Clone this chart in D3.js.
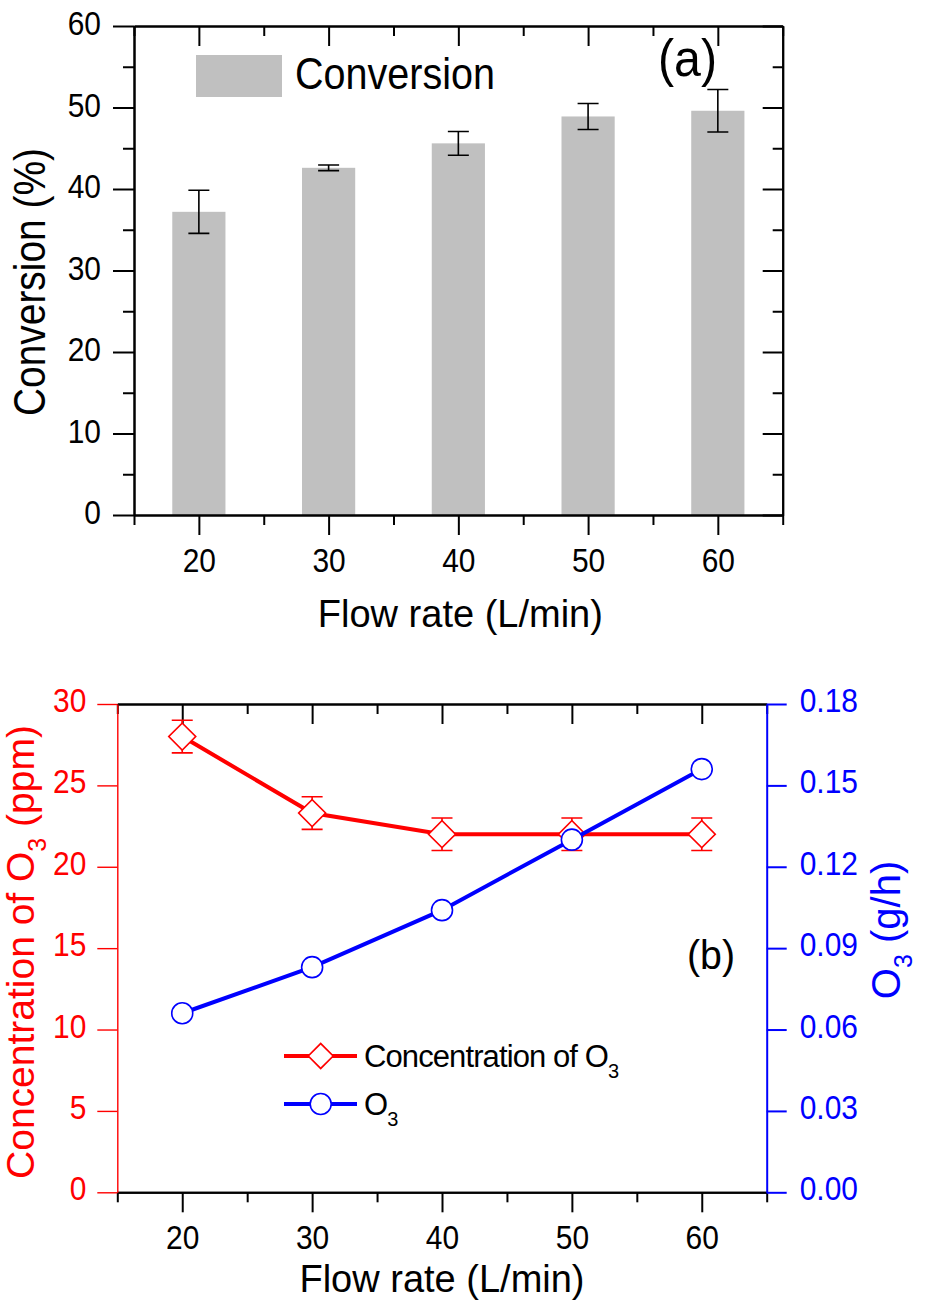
<!DOCTYPE html>
<html>
<head>
<meta charset="utf-8">
<script src="https://cdn.jsdelivr.net/npm/d3@7"></script>
<style>
  html, body { margin: 0; padding: 0; background: #fff; }
  svg { display: block; font-family: "Liberation Sans", Arial, sans-serif; }
</style>
</head>
<body>
<svg id="chart" width="925" height="1305"></svg>
<script>
// ---------- data ----------
const flowRates = [20, 30, 40, 50, 60];
const conversion = [37.2, 42.6, 45.6, 48.9, 49.6];
const conversionErr = [2.65, 0.35, 1.45, 1.6, 2.6];
const o3Concentration = [28.0, 23.3, 22.0, 22.0, 22.0];
const o3ConcentrationErr = [1.0, 1.0, 1.0, 1.0, 1.0];
const o3Rate = [0.066, 0.083, 0.104, 0.130, 0.156];

const xMajorTicks = [20, 30, 40, 50, 60];
const xMinorTicks = [15, 25, 35, 45, 55, 65];
const convMajorTicks = [0, 10, 20, 30, 40, 50, 60];
const convMinorTicks = [5, 15, 25, 35, 45, 55];
const concTicks = [0, 5, 10, 15, 20, 25, 30];
const rateTicks = [0, 0.03, 0.06, 0.09, 0.12, 0.15, 0.18];

const xTitle = "Flow rate (L/min)";
const convTitle = "Conversion (%)";
const convLegend = "Conversion";

// ---------- setup ----------
const svg = d3.select("#chart");
const RED = "#ff0000", BLUE = "#0000ff", GRAY = "#c0c0c0";
const TICK_FONT = 34;
const CONDENSE = 0.88;

// horizontally condense texts (narrow Arial look of the original)
function condense(sel, k, target) {
  sel.each(function () {
    const len = this.getComputedTextLength();
    d3.select(this).attr("textLength", target ? target : len * k).attr("lengthAdjust", "spacingAndGlyphs");
  });
}

function styleAxis(g, color, width) {
  g.select(".domain").attr("stroke", color).attr("stroke-width", width);
  g.selectAll(".tick line").attr("stroke", color).attr("stroke-width", width);
  g.selectAll(".tick text").attr("fill", color).style("font-size", TICK_FONT + "px")
    .style("font-family", '"Liberation Sans", Arial, sans-serif');
}

// ================= Panel (a) =================
const A = { left: 134, right: 782.7, top: 26, bottom: 515 };
const xA = d3.scaleLinear().domain([15, 65]).range([A.left, A.right]);
const yA = d3.scaleLinear().domain([0, 60]).range([A.bottom, A.top]);
const gA = svg.append("g");

// bars
const barUnits = 4.1;
gA.selectAll("rect.bar").data(flowRates).join("rect")
  .attr("class", "bar")
  .attr("x", (d) => xA(d - barUnits / 2))
  .attr("width", (d) => xA(d + barUnits / 2) - xA(d - barUnits / 2))
  .attr("y", (d, i) => yA(conversion[i]))
  .attr("height", (d, i) => yA(0) - yA(conversion[i]))
  .attr("fill", GRAY);

// error bars
const capA = 10.5;
flowRates.forEach((d, i) => {
  const x = xA(d), y1 = yA(conversion[i] + conversionErr[i]), y2 = yA(conversion[i] - conversionErr[i]);
  const p = d3.path();
  p.moveTo(x, y1); p.lineTo(x, y2);
  p.moveTo(x - capA, y1); p.lineTo(x + capA, y1);
  p.moveTo(x - capA, y2); p.lineTo(x + capA, y2);
  gA.append("path").attr("d", p.toString()).attr("stroke", "#000").attr("stroke-width", 1.6).attr("fill", "none");
});

// axes (a)
const axA = [];
axA.push(gA.append("g").attr("transform", `translate(0,${A.bottom})`)
  .call(d3.axisBottom(xA).tickValues(xMajorTicks).tickSize(20).tickSizeOuter(0).tickPadding(8).tickFormat(d3.format("d"))));
axA.push(gA.append("g").attr("transform", `translate(0,${A.bottom})`)
  .call(d3.axisBottom(xA).tickValues(xMinorTicks).tickSize(10).tickSizeOuter(0).tickFormat("")));
axA.push(gA.append("g").attr("transform", `translate(0,${A.top})`)
  .call(d3.axisBottom(xA).tickValues(xMajorTicks).tickSize(20).tickSizeOuter(0).tickFormat("")));
axA.push(gA.append("g").attr("transform", `translate(0,${A.top})`)
  .call(d3.axisBottom(xA).tickValues(xMinorTicks).tickSize(10).tickSizeOuter(0).tickFormat("")));
axA.push(gA.append("g").attr("transform", `translate(${A.left},0)`)
  .call(d3.axisLeft(yA).tickValues(convMajorTicks).tickSize(21).tickSizeOuter(0).tickPadding(12).tickFormat(d3.format("d"))));
axA.push(gA.append("g").attr("transform", `translate(${A.left},0)`)
  .call(d3.axisLeft(yA).tickValues(convMinorTicks).tickSize(11).tickSizeOuter(0).tickFormat("")));
axA.push(gA.append("g").attr("transform", `translate(${A.right},0)`)
  .call(d3.axisLeft(yA).tickValues(convMajorTicks).tickSize(20).tickSizeOuter(0).tickFormat("")));
axA.push(gA.append("g").attr("transform", `translate(${A.right},0)`)
  .call(d3.axisLeft(yA).tickValues(convMinorTicks).tickSize(10).tickSizeOuter(0).tickFormat("")));
axA.forEach((g) => styleAxis(g, "#000", 2));
axA[0].selectAll(".tick text").attr("dy", "0.85em");
axA[4].selectAll(".tick text").attr("dy", "0.25em");
condense(axA[0].selectAll(".tick text"), CONDENSE);
condense(axA[4].selectAll(".tick text"), CONDENSE);

// titles (a)
gA.append("text").attr("x", (A.left + A.right) / 2 + 2).attr("y", 627)
  .attr("text-anchor", "middle").style("font-size", "38px").text(xTitle);
const ytA = gA.append("text").attr("transform", "translate(45,282) rotate(-90)")
  .attr("text-anchor", "middle").style("font-size", "44px").text(convTitle);
condense(ytA, 0, 268);

// legend (a)
gA.append("rect").attr("x", 196).attr("y", 55).attr("width", 86).attr("height", 42).attr("fill", GRAY);
const legA = gA.append("text").attr("x", 295).attr("y", 89).style("font-size", "44px").text(convLegend);
condense(legA, 0, 200);
const labA = gA.append("text").attr("x", 658).attr("y", 76).style("font-size", "52px").text("(a)");
condense(labA, 0, 59);

// ================= Panel (b) =================
const B = { left: 117.3, right: 766.7, top: 704, bottom: 1192.3 };
const xB = d3.scaleLinear().domain([15, 65]).range([B.left, B.right]);
const yBL = d3.scaleLinear().domain([0, 30]).range([B.bottom, B.top]);
const yBR = d3.scaleLinear().domain([0, 0.18]).range([B.bottom, B.top]);
const gB = svg.append("g");

// axes (b)
const bBot = gB.append("g").attr("transform", `translate(0,${B.bottom})`)
  .call(d3.axisBottom(xB).tickValues(xMajorTicks).tickSize(20).tickSizeOuter(0).tickPadding(8).tickFormat(d3.format("d")));
const bBotMin = gB.append("g").attr("transform", `translate(0,${B.bottom})`)
  .call(d3.axisBottom(xB).tickValues(xMinorTicks).tickSize(10).tickSizeOuter(0).tickFormat(""));
const bTop = gB.append("g").attr("transform", `translate(0,${B.top})`)
  .call(d3.axisBottom(xB).tickValues(xMajorTicks).tickSize(20).tickSizeOuter(0).tickFormat(""));
const bTopMin = gB.append("g").attr("transform", `translate(0,${B.top})`)
  .call(d3.axisBottom(xB).tickValues(xMinorTicks).tickSize(10).tickSizeOuter(0).tickFormat(""));
[bBot, bBotMin, bTop, bTopMin].forEach((g) => styleAxis(g, "#000", 2));
bBot.selectAll(".tick text").attr("dy", "0.85em");
condense(bBot.selectAll(".tick text"), CONDENSE);

const bLeft = gB.append("g").attr("transform", `translate(${B.left},0)`)
  .call(d3.axisLeft(yBL).tickValues(concTicks).tickSize(20).tickSizeOuter(0).tickPadding(11).tickFormat(d3.format("d")));
styleAxis(bLeft, RED, 1.4);
bLeft.selectAll(".tick text").attr("dy", "0.22em");
condense(bLeft.selectAll(".tick text"), CONDENSE);

const bRight = gB.append("g").attr("transform", `translate(${B.right},0)`)
  .call(d3.axisRight(yBR).tickValues(rateTicks).tickSize(20).tickSizeOuter(0).tickPadding(13).tickFormat(d3.format(".2f")));
styleAxis(bRight, BLUE, 2);
bRight.selectAll(".tick text").attr("dy", "0.22em");
condense(bRight.selectAll(".tick text"), CONDENSE);

// red series: concentration
const lineConc = d3.line().x((d, i) => xB(flowRates[i])).y((d) => yBL(d));
gB.append("path").datum(o3Concentration).attr("d", lineConc)
  .attr("fill", "none").attr("stroke", RED).attr("stroke-width", 4);
const capB = 10.5;
o3Concentration.forEach((v, i) => {
  const x = xB(flowRates[i]), y1 = yBL(v + o3ConcentrationErr[i]), y2 = yBL(v - o3ConcentrationErr[i]);
  const p = d3.path();
  p.moveTo(x, y1); p.lineTo(x, y2);
  p.moveTo(x - capB, y1); p.lineTo(x + capB, y1);
  p.moveTo(x - capB, y2); p.lineTo(x + capB, y2);
  gB.append("path").attr("d", p.toString()).attr("stroke", RED).attr("stroke-width", 1.6).attr("fill", "none");
});
const diamond = d3.symbol().type(d3.symbolSquare).size(2 * 13.5 * 13.5);
gB.selectAll("path.dia").data(o3Concentration).join("path").attr("class", "dia")
  .attr("d", diamond)
  .attr("transform", (d, i) => `translate(${xB(flowRates[i])},${yBL(d)}) rotate(45)`)
  .attr("fill", "#fff").attr("stroke", RED).attr("stroke-width", 1.6);

// blue series: O3 rate
const lineRate = d3.line().x((d, i) => xB(flowRates[i])).y((d) => yBR(d));
gB.append("path").datum(o3Rate).attr("d", lineRate)
  .attr("fill", "none").attr("stroke", BLUE).attr("stroke-width", 4);
gB.selectAll("circle.rate").data(o3Rate).join("circle").attr("class", "rate")
  .attr("cx", (d, i) => xB(flowRates[i])).attr("cy", (d) => yBR(d)).attr("r", 10.5)
  .attr("fill", "#fff").attr("stroke", BLUE).attr("stroke-width", 1.6);

// titles (b)
gB.append("text").attr("x", (B.left + B.right) / 2).attr("y", 1292)
  .attr("text-anchor", "middle").style("font-size", "38px").text(xTitle);

const tL = gB.append("text").attr("transform", "translate(34,952) rotate(-90)")
  .attr("text-anchor", "middle").attr("fill", RED).style("font-size", "39px");
tL.append("tspan").text("Concentration of O");
tL.append("tspan").attr("dy", 12).style("font-size", "25px").text("3");
tL.append("tspan").attr("dy", -12).text(" (ppm)");

const tR = gB.append("text").attr("transform", "translate(900,930) rotate(-90)")
  .attr("text-anchor", "middle").attr("fill", BLUE).style("font-size", "40px");
tR.append("tspan").text("O");
tR.append("tspan").attr("dy", 12).style("font-size", "25px").text("3");
tR.append("tspan").attr("dy", -12).text(" (g/h)");

const labB = gB.append("text").attr("x", 687).attr("y", 969).style("font-size", "41px").text("(b)");
condense(labB, 0, 48);

// legend (b)
const legendItems = [
  { label: "Concentration of O", sub: "3", color: RED, marker: "diamond", y: 1056 },
  { label: "O", sub: "3", color: BLUE, marker: "circle", y: 1104 }
];
legendItems.forEach((it) => {
  gB.append("line").attr("x1", 284).attr("x2", 357).attr("y1", it.y).attr("y2", it.y)
    .attr("stroke", it.color).attr("stroke-width", 4);
  if (it.marker === "diamond") {
    gB.append("path").attr("d", d3.symbol().type(d3.symbolSquare).size(2 * 12.5 * 12.5)())
      .attr("transform", `translate(320.7,${it.y}) rotate(45)`)
      .attr("fill", "#fff").attr("stroke", it.color).attr("stroke-width", 1.6);
  } else {
    gB.append("circle").attr("cx", 320.7).attr("cy", it.y).attr("r", 10.5)
      .attr("fill", "#fff").attr("stroke", it.color).attr("stroke-width", 1.6);
  }
  const t = gB.append("text").attr("x", 364).attr("y", it.y + 11)
    .style("font-size", "31px").style("letter-spacing", "-0.9px");
  t.append("tspan").text(it.label);
  t.append("tspan").attr("dy", 11).style("font-size", "20px").style("letter-spacing", "0px").text(it.sub);
});
</script>
</body>
</html>
